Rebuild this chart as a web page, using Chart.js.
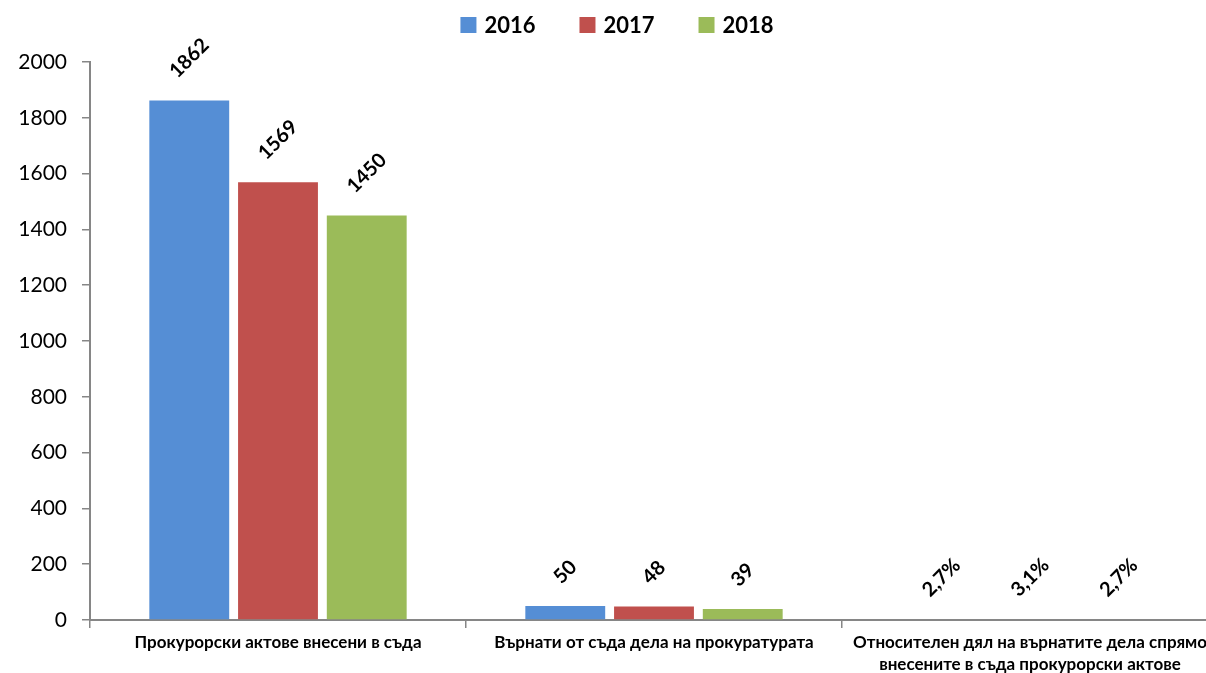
<!DOCTYPE html>
<html>
<head>
<meta charset="utf-8">
<script src="https://cdn.jsdelivr.net/npm/chart.js@4/dist/chart.umd.min.js"></script>
<style>
  html, body { margin: 0; padding: 0; background: #fff; overflow: hidden; }
  #wrap { width: 1220px; height: 673px; position: relative; }
</style>
</head>
<body>
<div id="wrap"><canvas id="chart"></canvas></div>
<script>
const categories = [
  'Прокурорски актове внесени в съда',
  'Върнати от съда дела на прокуратурата',
  ['Относителен дял на върнатите дела спрямо', 'внесените в съда прокурорски актове'],
];
const years = ['2016', '2017', '2018'];
const values2016 = [1862, 50, 2.7];
const values2017 = [1569, 48, 3.1];
const values2018 = [1450, 39, 2.7];
const yMin = 0;
const yMax = 2000;
const yStep = 200;

const seriesColors = ['#558ED5', '#C0504D', '#9BBB59'];
const axisColor = '#868686';
const fontFamily = 'Lato, "Noto Sans", sans-serif';

// the third category holds percentages, shown as "2,7%"
function formatValue(v, index) {
  if (index === 2) return v.toFixed(1).replace('.', ',') + '%';
  return String(v);
}

const barLabels = {
  id: 'barLabels',
  afterDatasetsDraw(chart) {
    const ctx = chart.ctx;
    ctx.save();
    ctx.font = 'bold 20px ' + fontFamily;
    ctx.fillStyle = '#000';
    ctx.textAlign = 'center';
    ctx.textBaseline = 'middle';
    chart.data.datasets.forEach((ds, di) => {
      const meta = chart.getDatasetMeta(di);
      meta.data.forEach((bar, i) => {
        const text = formatValue(ds.data[i], i);
        const w = ctx.measureText(text).width;
        const side = (w + 14) / Math.SQRT2;
        const cy = bar.y - 21 - side / 2;
        ctx.save();
        ctx.translate(bar.x, cy);
        ctx.rotate(-Math.PI / 4);
        ctx.fillText(text, 0, 0);
        ctx.restore();
      });
    });
    ctx.restore();
  },
};

const topLegend = {
  id: 'topLegend',
  afterDraw(chart) {
    const ctx = chart.ctx;
    ctx.save();
    ctx.font = 'bold 22px ' + fontFamily;
    ctx.textBaseline = 'middle';
    ctx.textAlign = 'left';
    const items = chart.data.datasets.map((ds) => ({
      label: ds.label,
      color: ds.backgroundColor,
      w: ctx.measureText(ds.label).width,
    }));
    const gap = 44;
    const total = items.reduce((s, it) => s + 24 + it.w, 0) + gap * (items.length - 1);
    let x = 617 - total / 2;
    items.forEach((it) => {
      ctx.fillStyle = it.color;
      ctx.fillRect(x, 17, 16, 16);
      ctx.fillStyle = '#000';
      ctx.fillText(it.label, x + 24, 26);
      x += 24 + it.w + gap;
    });
    ctx.restore();
  },
};

new Chart(document.getElementById('chart'), {
  type: 'bar',
  data: {
    labels: categories,
    datasets: [
      { label: years[0], data: values2016, backgroundColor: seriesColors[0] },
      { label: years[1], data: values2017, backgroundColor: seriesColors[1] },
      { label: years[2], data: values2018, backgroundColor: seriesColors[2] },
    ],
  },
  options: {
    responsive: true,
    maintainAspectRatio: false,
    animation: false,
    categoryPercentage: 0.708,
    barPercentage: 0.9,
    layout: { padding: { top: 62, right: 2, bottom: 0, left: 0 } },
    plugins: {
      legend: { display: false },
      tooltip: { enabled: false },
    },
    scales: {
      x: {
        offset: true,
        grid: {
          offset: true,
          drawOnChartArea: false,
          drawTicks: true,
          tickLength: 8,
          color: axisColor,
          lineWidth: 1.5,
        },
        border: { color: axisColor, width: 2 },
        ticks: {
          color: '#000',
          font: { family: fontFamily, size: 17, weight: 'bold', lineHeight: 1.3 },
          padding: 3,
          maxRotation: 0,
          minRotation: 0,
          autoSkip: false,
        },
        afterFit(scale) {
          scale.height = 53;
          scale.paddingRight = 0;
          scale.paddingLeft = 0;
        },
      },
      y: {
        min: yMin,
        max: yMax,
        grid: {
          drawOnChartArea: false,
          drawTicks: true,
          tickLength: 8,
          color: axisColor,
          lineWidth: 1.5,
        },
        border: { color: axisColor, width: 2 },
        ticks: {
          stepSize: yStep,
          color: '#000',
          font: { family: fontFamily, size: 21 },
          padding: 15,
          callback: (v) => String(v),
        },
        afterFit(scale) {
          scale.width = 90;
        },
      },
    },
  },
  plugins: [barLabels, topLegend],
});
</script>
</body>
</html>
